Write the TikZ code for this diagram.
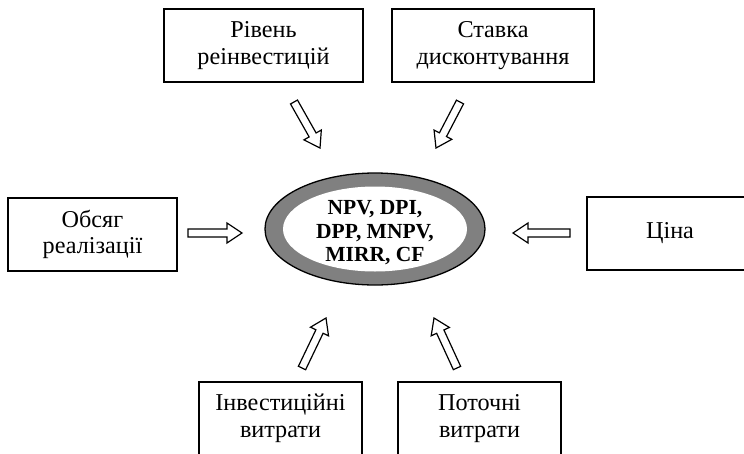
\documentclass[tikz,border=0pt]{standalone}
\usepackage{fontspec}
\setmainfont{Liberation Serif}
\usetikzlibrary{calc,shapes.geometric}

\tikzset{
  factor/.style = {draw, line width = 1.3pt, fill = white,
    minimum width = 163pt, minimum height = 73pt, inner sep = 0pt,
    align = center, font = \fontsize{24.2}{26.5}\selectfont},
  hollow/.style = {draw, line width = 1.2pt, fill = white, line join = miter,
    to path = {($(\tikztostart)!4pt!90:(\tikztotarget)$)
      -- ($(\tikztotarget)!15pt!(\tikztostart)!4pt!-90:(\tikztostart)$)
      -- ($(\tikztotarget)!15pt!(\tikztostart)!10pt!-90:(\tikztostart)$)
      -- (\tikztotarget)
      -- ($(\tikztotarget)!15pt!(\tikztostart)!10pt!90:(\tikztostart)$)
      -- ($(\tikztotarget)!15pt!(\tikztostart)!4pt!90:(\tikztostart)$)
      -- ($(\tikztostart)!4pt!-90:(\tikztotarget)$) -- cycle}}
}

\begin{document}
\begin{tikzpicture}
        [x = 1pt, y = -1pt]

        \useasboundingbox (0,0) rectangle (744,453);
        \clip (0,0) rectangle (744,453);

        % result in the middle
        \node (ring) at (375,229) [ellipse, draw, line width = 1.3pt, fill = gray,
          minimum width = 220pt, minimum height = 112pt] {};
        \node (hole) at (375,229) [ellipse, fill = white, inner sep = 0pt,
          minimum width = 184pt, minimum height = 85pt] {};
        \node (res) at (375,233) [align = center, inner sep = 0pt,
          font = \fontsize{21.5}{23.5}\selectfont\bfseries]
          {NPV, DPI,\\ DPP, MNPV,\\ MIRR, CF};

        % factors
        \node (reinv)  at (263.5,45.5) [factor, minimum width = 199pt] {Рівень\\ реінвестицій};
        \node (disc)   at (493,45.5)   [factor, minimum width = 202pt] {Ставка\\ дисконтування};
        \node (volume) at (92.5,234.5) [factor, minimum width = 169pt] {Обсяг\\ реалізації};
        \node (price)  at (670,233.5)  [factor, minimum width = 166pt] {Ціна};
        \node (invest) at (280.5,418.5) [factor] {Інвестиційні\\ витрати};
        \node (curr)   at (479.5,418.5) [factor] {Поточні\\ витрати};

        % arrows
        \foreach \n/\t/\h in {1/{294,102}/{320,148}, 2/{460,102}/{436,148},
                              3/{188,233}/{242,233}, 4/{570,233}/{513,233},
                              5/{302,368}/{326,318}, 6/{457,368}/{434,318}}
        {
          \coordinate (tail\n) at (\t);
          \coordinate (head\n) at (\h);
          \draw[hollow] (tail\n) to (head\n);
        }
      \end{tikzpicture}
\end{document}
